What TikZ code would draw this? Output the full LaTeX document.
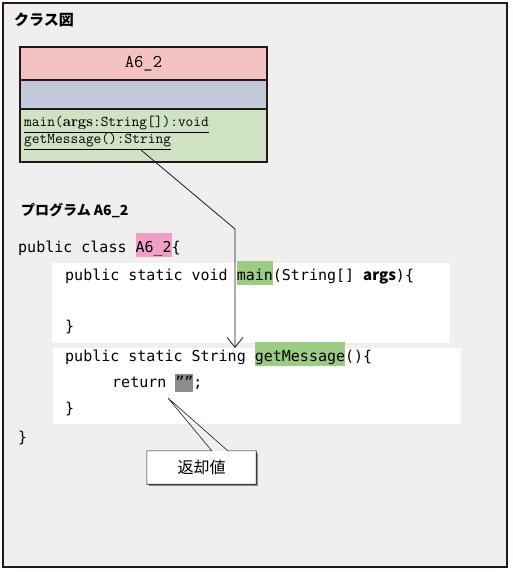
\documentclass[tikz,border=0pt]{standalone}
\usepackage{fontspec}
\usepackage{xcolor}
\usepackage{tikz}
\usetikzlibrary{
    arrows.meta,
    positioning,
    calc
}
\newfontfamily\jpfont{Noto Sans CJK JP}
\newfontfamily\codettf{DejaVu Sans Mono}
\definecolor{panelbg}{HTML}{EFEFEF}
\definecolor{frameline}{HTML}{231815}
\definecolor{umlpink}{HTML}{F4C2C2}
\definecolor{umlblue}{HTML}{C3C8DA}
\definecolor{umlgreen}{HTML}{CFE3C4}
\definecolor{hlpink}{HTML}{F0A0C4}
\definecolor{hlgreen}{HTML}{9BCB84}
\definecolor{hlgray}{HTML}{8C8C8C}
\definecolor{noteedge}{HTML}{8A8A8A}
\newcommand\codefont{\codettf\fontsize{15pt}{18pt}\selectfont}
\newcommand\umlfont{\ttfamily\fontsize{15pt}{17pt}\selectfont}
\newcommand\hl[2]{{\setlength\fboxsep{0pt}\colorbox{#1}{\rule[-5pt]{0pt}{24pt}#2}}}
\newcommand\hlq[2]{{\setlength\fboxsep{0pt}\colorbox{#1}{\rule[-5pt]{0pt}{18pt}#2}}}
\tikzset{
    umlpart/.style={
        rectangle, draw=frameline, fill=#1,
        line width=2pt, inner sep=0pt, outer sep=0pt,
        minimum width=247pt
    },
    umltext/.style={
        font=\umlfont, inner sep=0pt, anchor=base west
    },
    codeline/.style={
        font=\codefont, inner sep=0pt, anchor=base west
    },
    codebox/.style={
        rectangle, fill=white, inner sep=0pt, outer sep=0pt
    },
    caption/.style={
        font=\jpfont\bfseries\fontsize{15pt}{17pt}\selectfont,
        inner sep=0pt, anchor=west
    },
    link/.style={
        -{Straight Barb[length=10pt,width=16pt,line width=0.8pt]},
        line width=0.8pt, color=frameline
    },
    notebox/.style={
        rectangle, fill=white, inner sep=0pt,
        minimum width=109pt, minimum height=33pt,
        font=\jpfont\fontsize{16pt}{18pt}\selectfont
    },
}

\begin{document}
\begin{tikzpicture}[x=1pt, y=-1pt]
    \useasboundingbox (0,0) rectangle (512,572);
    \draw[frameline, fill=panelbg, line width=1.4pt] (3,3) rectangle (507,567);

    \node[caption] (umltitle) at (14,20) {クラス図};

    % class diagram
    \node[umlpart=umlpink, minimum height=33pt] (cname) at (143.5,63.5) {\ttfamily\fontsize{18pt}{20pt}\selectfont A6\_2};
    \node[umlpart=umlblue, minimum height=29pt, below=0pt of cname] (cattr) {};
    \node[umlpart=umlgreen, minimum height=53pt, below=0pt of cattr] (cmeth) {};
    \node[umltext] (mmain) at (24,127) {\underline{main(\textrm{\bfseries args}:String[]):void}};
    \node[umltext] (mget) at (24,144) {\underline{getMessage():String}};

    \node[caption, font=\jpfont\bfseries\fontsize{14pt}{16pt}\selectfont] (progtitle) at (21,210) {プログラム A6\_2};

    % program
    \node[codebox, minimum width=398pt, minimum height=80pt] (mainbox) at (251,303) {};
    \node[codebox, minimum width=408pt, minimum height=76pt] (getbox) at (257,386) {};

    \node[codeline] (cls) at (18,252) {public class \hl{hlpink}{A6\_2}\{};
    \node[codeline] (mainsig) at (65,280) {public static void \hl{hlgreen}{main}(String[] {\jpfont\bfseries args})\{};
    \node[codeline] (mainend) at (65,331) {\}};
    \node[codeline] (getsig) at (65,361) {public static String \hl{hlgreen}{getMessage}()\{};
    \node[codeline] (ret) at (112,387) {return \hlq{hlgray}{””};};
    \node[codeline] (getend) at (65,413) {\}};
    \node[codeline] (clsend) at (18,442) {\}};

    \coordinate (src) at (141,150);
    \coordinate (bend) at (235,229);
    \draw[link] (src) -- (bend) -- (bend |- getbox.north);

    % return value note
    \node[notebox] (retnote) at (201.5,467.5) {返却値};
    \fill[noteedge] ($(retnote.north east)+(0,2)$) rectangle ($(retnote.south east)+(2,2)$);
    \fill[noteedge] ($(retnote.south west)+(2,0)$) rectangle ($(retnote.south east)+(2,2)$);
    \coordinate (rettip) at (168,398);
    \draw[frameline, line width=0.6pt] ($(retnote.north west)+(65,0)$) -- (rettip)
        -- ($(retnote.north west)+(81,0)$) -| (retnote.south east) -| (retnote.north west) -- cycle;
\end{tikzpicture}
\end{document}
